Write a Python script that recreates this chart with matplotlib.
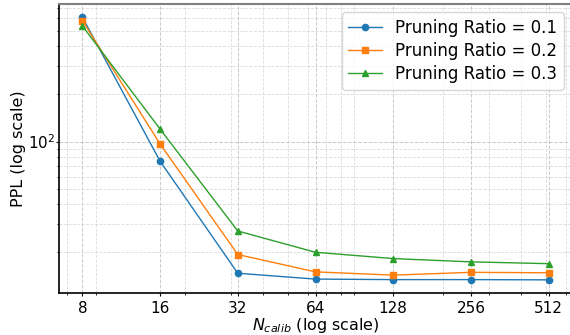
import matplotlib

matplotlib.use("Agg")
import matplotlib.pyplot as plt
from matplotlib.ticker import FixedLocator, FixedFormatter, NullFormatter

n_calib = [8, 16, 32, 64, 128, 256, 512]
tick_labels = ["8", "16", "32", "64", "128", "256", "512"]

ppl_r01 = [612, 75.2, 14.7, 13.5, 13.4, 13.4, 13.35]
ppl_r02 = [582, 96.7, 19.3, 15.0, 14.3, 14.9, 14.8]
ppl_r03 = [539, 120, 27.2, 19.95, 18.2, 17.35, 16.9]

series = [
    ("Pruning Ratio = 0.1", ppl_r01, "o", "tab:blue"),
    ("Pruning Ratio = 0.2", ppl_r02, "s", "tab:orange"),
    ("Pruning Ratio = 0.3", ppl_r03, "^", "tab:green"),
]

fig = plt.figure(figsize=(5.7, 3.35), dpi=100)
ax = fig.add_axes([59 / 570, 42 / 335, 513 / 570, 289 / 335])

for label, values, marker, color in series:
    ax.plot(n_calib, values, marker=marker, markersize=4.5, linewidth=1.0, color=color, label=label)

ax.set_xscale("log")
ax.set_yscale("log")
ax.xaxis.set_major_locator(FixedLocator(n_calib))
ax.xaxis.set_major_formatter(FixedFormatter(tick_labels))
ax.xaxis.set_minor_formatter(NullFormatter())
ax.yaxis.set_minor_formatter(NullFormatter())

ax.grid(True, which="major", linestyle="--", linewidth=0.7, color="#bbbbbb", alpha=0.8)
ax.grid(True, which="minor", linestyle="--", linewidth=0.6, color="#cccccc", alpha=0.7)

ax.tick_params(axis="both", which="major", labelsize=11, length=2.5)
ax.tick_params(axis="x", which="major", pad=3)
ax.tick_params(axis="y", which="major", pad=0.5)
ax.tick_params(axis="both", which="minor", length=1.5)
ax.set_xlabel("$N_{calib}$ (log scale)", fontsize=11.5, labelpad=0)
ax.set_ylabel("PPL (log scale)", fontsize=11.5, labelpad=1)

ax.spines["top"].set_color("#808080")
ax.spines["top"].set_linewidth(1.5)
ax.spines["left"].set_linewidth(1.2)
ax.spines["bottom"].set_linewidth(1.2)

ax.legend(loc="upper right", fontsize=12, labelspacing=0.3)

fig.savefig("out.png", dpi=100)
